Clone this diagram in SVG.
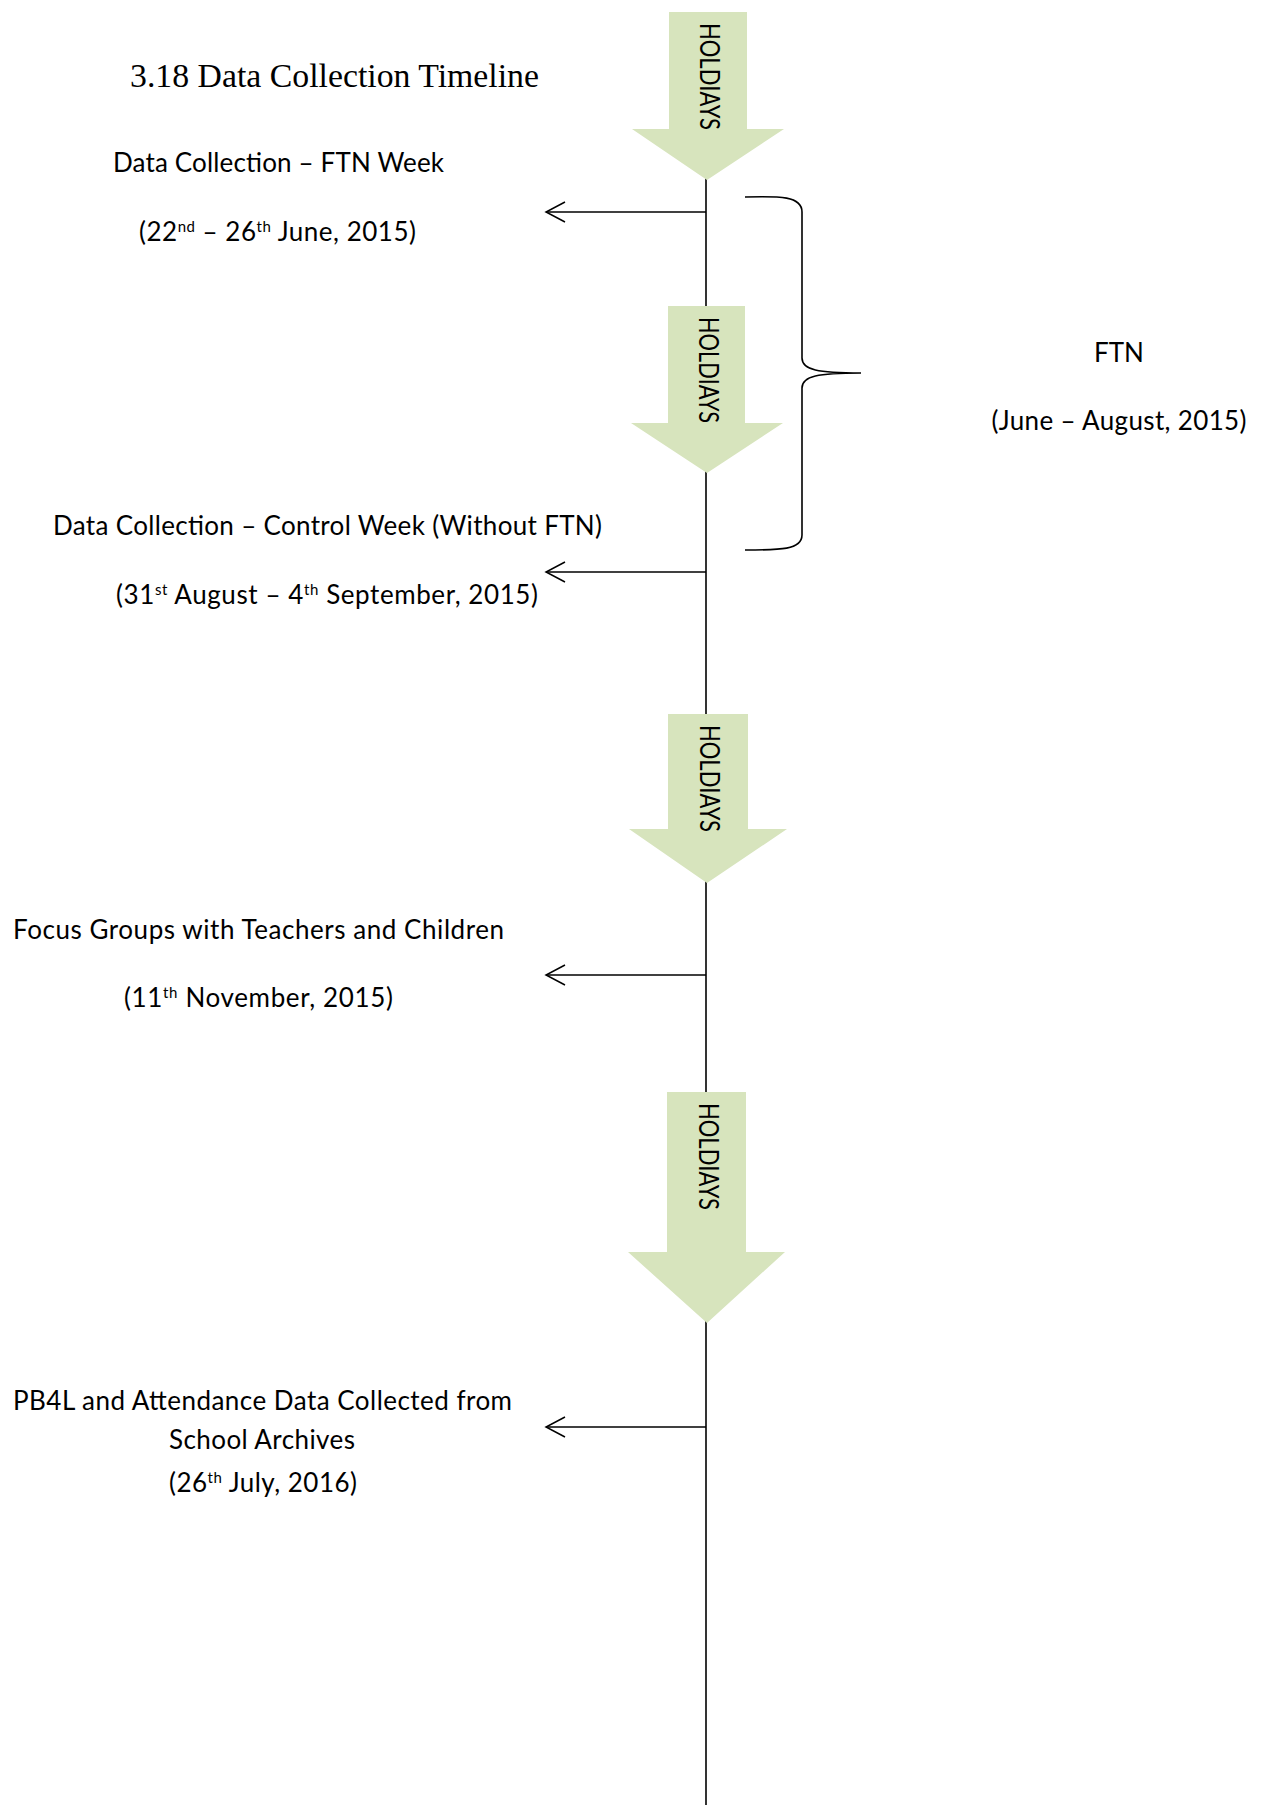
<svg xmlns="http://www.w3.org/2000/svg" width="1264" height="1805" viewBox="0 0 1264 1805">
<style>
.t{font-family:Lato,"Liberation Sans",sans-serif;font-size:26px;fill:#000}
.title{font-family:"Liberation Serif",serif;font-size:34px;fill:#000}
.hol{font-family:Lato,"Liberation Sans",sans-serif;font-size:26px;fill:#000}
.arrow{fill:#D7E4BD;stroke:none}
.ln{stroke:#000;stroke-width:1.6;fill:none}
.sup{font-size:15px}
</style>
<defs>
<marker id="open" markerWidth="22" markerHeight="22" refX="20" refY="11" orient="auto" markerUnits="userSpaceOnUse">
<path d="M1,1 L20,11 L1,21" fill="none" stroke="#000" stroke-width="1.5"/>
</marker>
</defs>
<rect width="1264" height="1805" fill="#fff"/>
<text class="title" x="130" y="87" textLength="409" lengthAdjust="spacingAndGlyphs">3.18 Data Collection Timeline</text>
<g id="connectors">
<line class="ln" x1="706" y1="12" x2="706" y2="1805"/>
<line class="ln" x1="706" y1="212" x2="546" y2="212" marker-end="url(#open)"/>
<line class="ln" x1="706" y1="572" x2="546" y2="572" marker-end="url(#open)"/>
<line class="ln" x1="706" y1="975" x2="546" y2="975" marker-end="url(#open)"/>
<line class="ln" x1="706" y1="1427" x2="546" y2="1427" marker-end="url(#open)"/>
<path id="brace" class="ln" d="M745,197 C780,196 802,196 802,212 L802,358 C802,370 818,373 861,373 C818,373 802,376 802,388 L802,535 C802,550 780,550 745,550"/>
</g>
<g id="holiday1">
<polygon class="arrow" points="669,12 747,12 747,129 784,129 707,180 632,129 669,129"/>
<text class="hol" transform="translate(700,23) rotate(90)" textLength="107" lengthAdjust="spacingAndGlyphs">HOLDIAYS</text>
</g>
<g id="holiday2">
<polygon class="arrow" points="668,306 745,306 745,423 783,423 707,473 631,423 668,423"/>
<text class="hol" transform="translate(699,317) rotate(90)" textLength="106" lengthAdjust="spacingAndGlyphs">HOLDIAYS</text>
</g>
<g id="holiday3">
<polygon class="arrow" points="668,714 748,714 748,829 787,829 707,883 629,829 668,829"/>
<text class="hol" transform="translate(700,725) rotate(90)" textLength="107" lengthAdjust="spacingAndGlyphs">HOLDIAYS</text>
</g>
<g id="holiday4">
<polygon class="arrow" points="667,1092 746,1092 746,1252 785,1252 707,1323 628,1252 667,1252"/>
<text class="hol" transform="translate(699,1103) rotate(90)" textLength="107" lengthAdjust="spacingAndGlyphs">HOLDIAYS</text>
</g>
<g id="event1">
<text class="t" x="113" y="172" textLength="331">Data Collection – FTN Week</text>
<text class="t" x="139" y="241" textLength="277">(22<tspan class="sup" baseline-shift="super">nd</tspan> – 26<tspan class="sup" baseline-shift="super">th</tspan> June, 2015)</text>
</g>
<g id="ftn">
<text class="t" x="1119" y="362" text-anchor="middle">FTN</text>
<text class="t" x="1119" y="430" text-anchor="middle" textLength="255">(June – August, 2015)</text>
</g>
<g id="event2">
<text class="t" x="53" y="535" textLength="549">Data Collection – Control Week (Without FTN)</text>
<text class="t" x="116" y="604" textLength="422">(31<tspan class="sup" baseline-shift="super">st</tspan> August – 4<tspan class="sup" baseline-shift="super">th</tspan> September, 2015)</text>
</g>
<g id="event3">
<text class="t" x="13" y="939" textLength="491">Focus Groups with Teachers and Children</text>
<text class="t" x="124" y="1007" textLength="269">(11<tspan class="sup" baseline-shift="super">th</tspan> November, 2015)</text>
</g>
<g id="event4">
<text class="t" x="13" y="1410" textLength="499">PB4L and Attendance Data Collected from</text>
<text class="t" x="169" y="1449" textLength="186">School Archives</text>
<text class="t" x="169" y="1492" textLength="188">(26<tspan class="sup" baseline-shift="super">th</tspan> July, 2016)</text>
</g>
</svg>
